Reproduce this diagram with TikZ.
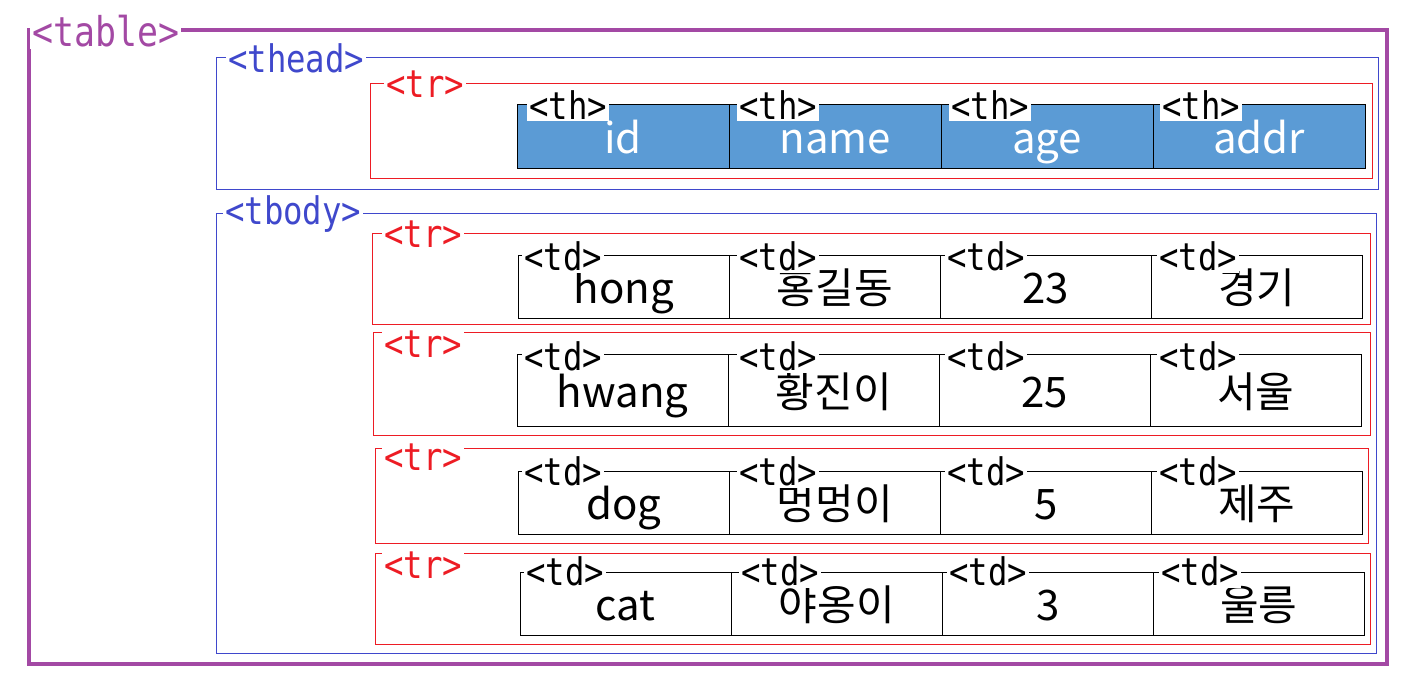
\documentclass[tikz,border=0pt]{standalone}
\usepackage{fontspec}
\setmainfont{Noto Sans CJK KR}
\newfontfamily\tagfont[FakeStretch=0.85]{DejaVu Sans Mono}
\definecolor{tablecol}{HTML}{A349A4}
\definecolor{secblue}{HTML}{3F48CC}
\definecolor{rowred}{HTML}{ED1C24}
\definecolor{thfill}{HTML}{5B9BD5}
\begin{document}
\begin{tikzpicture}[x=1pt,y=-1pt,
  frame/.style={draw,rectangle,anchor=north west,inner sep=0pt},
  tag/.style={anchor=west,fill=white,inner sep=2pt,font=\tagfont\fontsize{38pt}{38pt}\selectfont},
  thcell/.style={draw=black,fill=thfill,anchor=north west,inner sep=0pt,minimum width=212pt,minimum height=64pt,text=white,text height=34pt,text depth=0pt,font=\fontsize{42pt}{42pt}\selectfont},
  tdcell/.style={draw=black,anchor=north west,inner sep=0pt,minimum width=211pt,minimum height=63pt,text height=34pt,text depth=0pt,font=\fontsize{42pt}{42pt}\selectfont}]
\useasboundingbox (0,0) rectangle (1414,684);

% boxes
\node[frame,draw=tablecol,line width=4pt,minimum width=1358pt,minimum height=634pt] (table) at (27,28) {};
\node[frame,draw=secblue,minimum width=1162pt,minimum height=132pt] (thead) at (216,57) {};
\node[frame,draw=secblue,minimum width=1160pt,minimum height=440pt] (tbody) at (216,213) {};
\node[frame,draw=rowred,minimum width=1002pt,minimum height=95pt] (tr0) at (370,83) {};
\node[frame,draw=rowred,minimum width=998pt,minimum height=91pt] (tr1) at (372,233) {};
\node[frame,draw=rowred,minimum width=997pt,minimum height=103pt] (tr2) at (373,332) {};
\node[frame,draw=rowred,minimum width=993pt,minimum height=95pt] (tr3) at (375,448) {};
\node[frame,draw=rowred,minimum width=995pt,minimum height=91pt] (tr4) at (375,553) {};

% header cells
\node[thcell] (th1) at (517,104) {id};
\node[thcell] (th2) at (729,104) {name};
\node[thcell] (th3) at (941,104) {age};
\node[thcell] (th4) at (1153,104) {addr};

% data cells
\node[tdcell] (td11) at (518,255) {hong};
\node[tdcell] (td12) at (729,255) {홍길동};
\node[tdcell] (td13) at (940,255) {23};
\node[tdcell] (td14) at (1151,255) {경기};
\node[tdcell,minimum height=72pt] (td21) at (517,354) {hwang};
\node[tdcell,minimum height=72pt] (td22) at (728,354) {황진이};
\node[tdcell,minimum height=72pt] (td23) at (939,354) {25};
\node[tdcell,minimum height=72pt] (td24) at (1150,354) {서울};
\node[tdcell] (td31) at (518,471) {dog};
\node[tdcell] (td32) at (729,471) {멍멍이};
\node[tdcell] (td33) at (940,471) {5};
\node[tdcell] (td34) at (1151,471) {제주};
\node[tdcell] (td41) at (520,572) {cat};
\node[tdcell] (td42) at (731,572) {야옹이};
\node[tdcell] (td43) at (942,572) {3};
\node[tdcell] (td44) at (1153,572) {울릉};

% tag labels
\node[tag,text=tablecol,font=\tagfont\fontsize{41pt}{41pt}\selectfont] (ltable) at (30,31) {<table>};
\node[tag,text=secblue] (lthead) at (226,58) {<thead>};
\node[tag,text=secblue] (ltbody) at (223,214) {<tbody>};
\node[tag,text=rowred] (ltr0) at (384,84) {<tr>};
\node[tag,text=rowred] (ltr1) at (382,234) {<tr>};
\node[tag,text=rowred] (ltr2) at (382,344) {<tr>};
\node[tag,text=rowred] (ltr3) at (382,457) {<tr>};
\node[tag,text=rowred] (ltr4) at (382,565) {<tr>};
\node[tag] (lth1) at (527,105) {<th>};
\node[tag] (lth2) at (737,105) {<th>};
\node[tag] (lth3) at (949,105) {<th>};
\node[tag] (lth4) at (1160,105) {<th>};
\node[tag] (ltd11) at (522,256) {<td>};
\node[tag] (ltd12) at (737,256) {<td>};
\node[tag] (ltd13) at (945,256) {<td>};
\node[tag] (ltd14) at (1157,256) {<td>};
\node[tag] (ltd21) at (522,356) {<td>};
\node[tag] (ltd22) at (737,356) {<td>};
\node[tag] (ltd23) at (945,356) {<td>};
\node[tag] (ltd24) at (1157,356) {<td>};
\node[tag] (ltd31) at (522,471) {<td>};
\node[tag] (ltd32) at (737,471) {<td>};
\node[tag] (ltd33) at (945,471) {<td>};
\node[tag] (ltd34) at (1157,471) {<td>};
\node[tag] (ltd41) at (524,571) {<td>};
\node[tag] (ltd42) at (739,571) {<td>};
\node[tag] (ltd43) at (947,571) {<td>};
\node[tag] (ltd44) at (1159,571) {<td>};
\end{tikzpicture}
\end{document}
